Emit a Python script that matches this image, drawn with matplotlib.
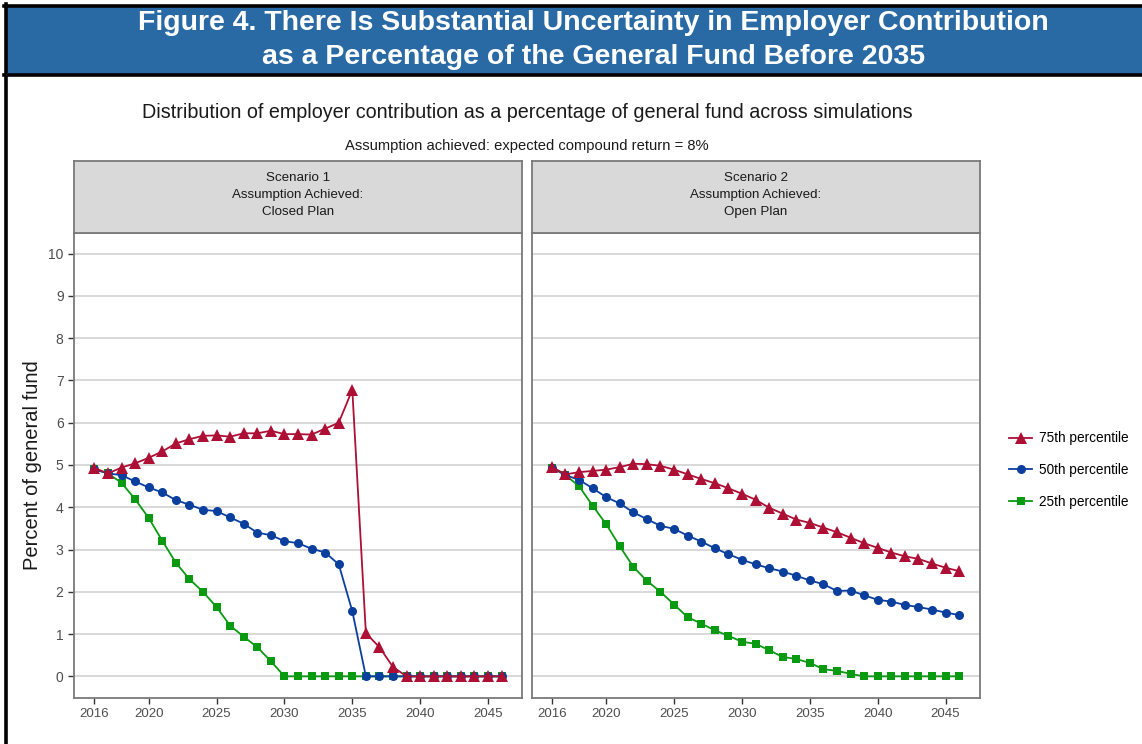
import matplotlib
matplotlib.use('Agg')
import matplotlib.pyplot as plt
from matplotlib.patches import Rectangle
from matplotlib.lines import Line2D
import numpy as np

plt.rcParams['font.family'] = ['Liberation Sans', 'DejaVu Sans']

years = np.arange(2016, 2047)

# Scenario 1: closed plan
closed_p75 = [4.93, 4.80, 4.94, 5.04, 5.17, 5.32, 5.51, 5.61, 5.69, 5.70, 5.67, 5.75, 5.75, 5.81,
              5.73, 5.73, 5.72, 5.86, 6.00, 6.78, 1.02, 0.69, 0.22, 0, 0, 0, 0, 0, 0, 0, 0]
closed_p50 = [4.90, 4.80, 4.76, 4.61, 4.47, 4.35, 4.17, 4.06, 3.94, 3.91, 3.76, 3.61, 3.40, 3.34,
              3.20, 3.15, 3.02, 2.93, 2.65, 1.54, 0, 0, 0, 0, 0, 0, 0, 0, 0, 0, 0]
closed_p25 = [4.90, 4.80, 4.58, 4.19, 3.75, 3.21, 2.69, 2.30, 2.00, 1.64, 1.20, 0.94, 0.69, 0.36,
              0, 0, 0, 0, 0, 0, 0, 0, 0, 0, 0, 0, 0, 0, 0, 0, 0]

# Scenario 2: open plan
open_p75 = [4.95, 4.78, 4.83, 4.86, 4.89, 4.95, 5.03, 5.02, 4.98, 4.89, 4.78, 4.67, 4.57, 4.45,
            4.32, 4.18, 3.99, 3.85, 3.71, 3.63, 3.52, 3.41, 3.28, 3.15, 3.04, 2.93, 2.84, 2.78,
            2.67, 2.57, 2.49]
open_p50 = [4.94, 4.76, 4.65, 4.45, 4.24, 4.09, 3.88, 3.72, 3.56, 3.49, 3.33, 3.19, 3.03, 2.89,
            2.76, 2.65, 2.56, 2.48, 2.38, 2.27, 2.18, 2.02, 2.03, 1.92, 1.81, 1.77, 1.69, 1.64,
            1.58, 1.51, 1.45]
open_p25 = [4.94, 4.76, 4.50, 4.04, 3.60, 3.08, 2.59, 2.26, 2.00, 1.70, 1.40, 1.25, 1.09, 0.96,
            0.82, 0.77, 0.62, 0.46, 0.41, 0.32, 0.17, 0.13, 0.06, 0, 0, 0, 0, 0, 0, 0, 0]

panel_titles = ['Scenario 1\nAssumption Achieved:\nClosed Plan',
                'Scenario 2\nAssumption Achieved:\nOpen Plan']
series_labels = ['25th percentile', '50th percentile', '75th percentile']
xticks = [2016, 2020, 2025, 2030, 2035, 2040, 2045]

colors = {'75th percentile': '#ad0f35', '50th percentile': '#0b3f9e', '25th percentile': '#0a9a12'}
markers = {'75th percentile': ('^', 8.5), '50th percentile': ('o', 6.5), '25th percentile': ('s', 6.2)}

W, H = 1142, 744
fig = plt.figure(figsize=(W / 100, H / 100), dpi=100)


def fx(px):
    return px / W


def fy(py):
    return 1 - py / H


# header band and outer frame
fig.patches.append(Rectangle((fx(5), fy(74.5)), 1, fy(5.5) - fy(74.5), transform=fig.transFigure,
                             facecolor='#2a6aa4', edgecolor='none', zorder=0))
fig.add_artist(Line2D([fx(4), 1], [fy(5.5), fy(5.5)], color='black', lw=2.6))
fig.add_artist(Line2D([fx(4), 1], [fy(74.5), fy(74.5)], color='black', lw=2.6))
fig.add_artist(Line2D([fx(5.5), fx(5.5)], [0, fy(4)], color='black', lw=2.6))

fig.text(0.52, fy(23.5), 'Figure 4. There Is Substantial Uncertainty in Employer Contribution',
         ha='center', va='center', color='white', fontsize=20.5, fontweight='bold')
fig.text(0.52, fy(57.5), 'as a Percentage of the General Fund Before 2035',
         ha='center', va='center', color='white', fontsize=20.5, fontweight='bold')

fig.text(fx(527), fy(113), 'Distribution of employer contribution as a percentage of general fund across simulations',
         ha='center', va='center', color='#1a1a1a', fontsize=14.2)
fig.text(fx(527), fy(146), 'Assumption achieved: expected compound return = 8%',
         ha='center', va='center', color='#1a1a1a', fontsize=10.6)

fig.text(fx(33), fy(465), 'Percent of general fund', rotation=90, ha='center', va='center',
         color='#1a1a1a', fontsize=14.5)

panels = [
    (74, panel_titles[0], [closed_p25, closed_p50, closed_p75]),
    (531.5, panel_titles[1], [open_p25, open_p50, open_p75]),
]

top, bottom, strip_top = 232.5, 697.5, 161
pw = 448

for i, (left, title, data) in enumerate(panels):
    ax = fig.add_axes([fx(left), fy(bottom), pw / W, (bottom - top) / H])
    for lab, vals in zip(series_labels, data):
        m, ms = markers[lab]
        ax.plot(years, vals, color=colors[lab], lw=1.3, marker=m, markersize=ms,
                markeredgewidth=0, label=lab)
    ax.set_xlim(2014.5, 2047.5)
    ax.set_ylim(-0.5, 10.5)
    ax.set_xticks(xticks)
    ax.set_yticks(range(0, 11))
    ax.yaxis.grid(True, color='#d6d6d6', lw=1.3)
    ax.set_axisbelow(True)
    for s in ax.spines.values():
        s.set_color('#7a7a7a')
        s.set_linewidth(1.3)
    ax.tick_params(axis='x', colors='#333333', labelcolor='#4d4d4d', labelsize=9.5, length=4, width=1)
    if i == 0:
        ax.tick_params(axis='y', colors='#333333', labelcolor='#4d4d4d', labelsize=10, length=4, width=1)
    else:
        ax.tick_params(axis='y', left=False, labelleft=False)

    sax = fig.add_axes([fx(left), fy(top), pw / W, (top - strip_top) / H])
    sax.set_facecolor('#d9d9d9')
    sax.set_xticks([])
    sax.set_yticks([])
    for s in sax.spines.values():
        s.set_color('#7a7a7a')
        s.set_linewidth(1.3)
    sax.text(0.5, 0.52, title, ha='center', va='center', fontsize=9.6, color='#1a1a1a',
             linespacing=1.55, transform=sax.transAxes)

# legend
handles = []
for lab in ['75th percentile', '50th percentile', '25th percentile']:
    m, ms = markers[lab]
    handles.append(Line2D([], [], color=colors[lab], lw=1.3, marker=m, markersize=ms,
                          markeredgewidth=0))
fig.legend(handles, ['75th percentile', '50th percentile', '25th percentile'],
           loc='center left', bbox_to_anchor=(fx(997), fy(470)), frameon=False, fontsize=9.8,
           handlelength=1.7, labelspacing=1.3, handletextpad=0.5)

fig.savefig('out.png', dpi=100)
